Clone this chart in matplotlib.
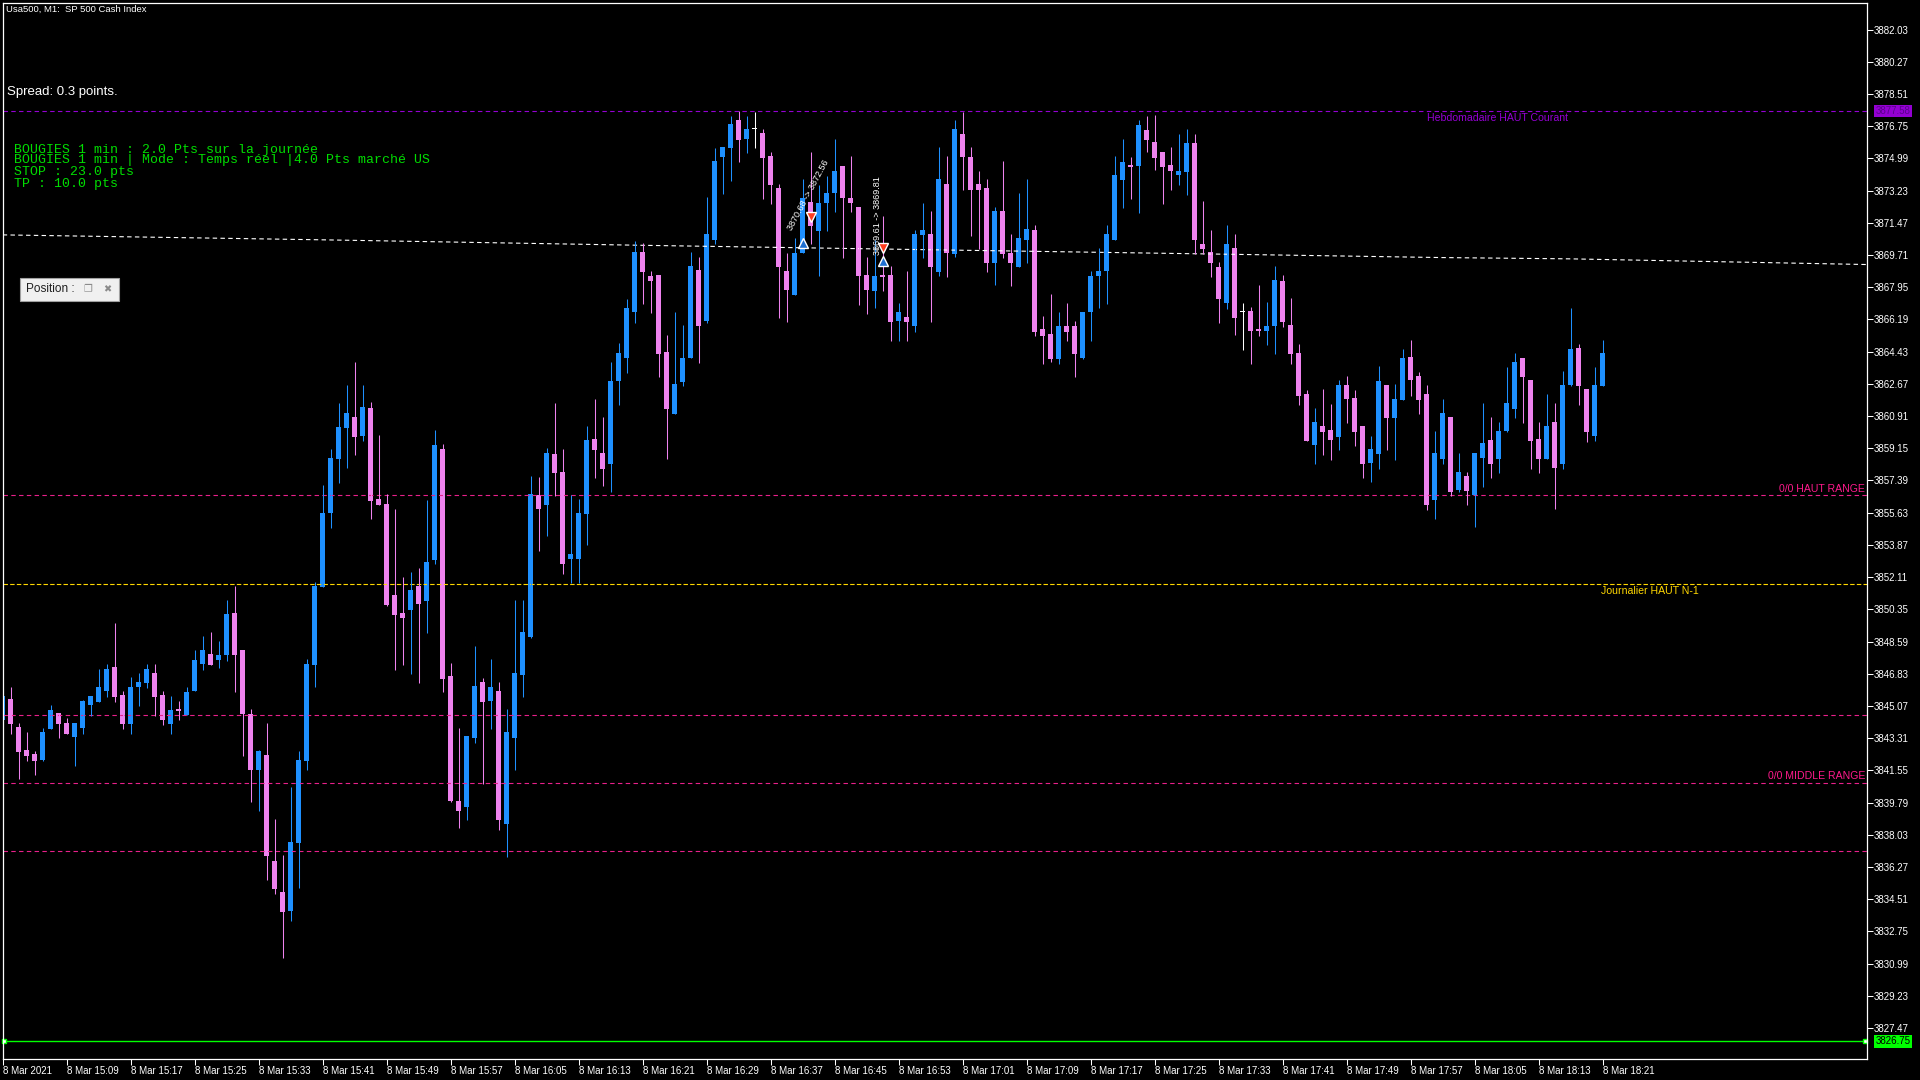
import datetime
import matplotlib
matplotlib.use("Agg")
import matplotlib.pyplot as plt
from matplotlib.patches import Rectangle
from matplotlib.transforms import blended_transform_factory

plt.rcParams['font.family'] = ['Liberation Sans', 'DejaVu Sans']

# M1 candles, 8 Mar 2021 from 15:01 to 18:21
opens = [
    3844.31, 3845.45, 3843.92, 3842.67, 3842.45, 3842.12, 3843.82, 3844.69, 3844.14, 3843.38,
    3843.87, 3845.13, 3845.29, 3845.89, 3847.20, 3845.67, 3844.09, 3846.11, 3846.33, 3846.88,
    3845.67, 3844.09, 3844.90, 3844.58, 3845.89, 3847.37, 3847.91, 3847.59, 3847.86, 3850.15,
    3848.13, 3844.63, 3841.57, 3842.39, 3836.60, 3834.91, 3833.87, 3837.58, 3842.07, 3847.31,
    3851.57, 3855.61, 3858.56, 3860.26, 3860.86, 3859.82, 3861.35, 3856.38, 3856.11, 3851.13,
    3850.15, 3850.31, 3851.62, 3850.80, 3853.04, 3859.11, 3846.71, 3839.88, 3839.55, 3843.32,
    3846.38, 3845.34, 3845.89, 3838.62, 3843.32, 3846.76, 3848.84, 3856.60, 3856.05, 3858.84,
    3857.85, 3853.10, 3853.10, 3855.56, 3859.66, 3858.89, 3858.29, 3862.83, 3864.08, 3866.60,
    3869.87, 3868.56, 3868.62, 3864.41, 3861.02, 3862.77, 3864.08, 3868.89, 3866.10, 3870.53,
    3875.07, 3875.56, 3877.09, 3876.05, 3876.58, 3876.38, 3875.12, 3873.37, 3868.84, 3867.52,
    3869.82, 3872.61, 3871.02, 3872.55, 3873.10, 3874.57, 3872.82, 3872.33, 3868.62, 3867.74,
    3868.64, 3868.62, 3866.10, 3866.32, 3865.83, 3870.80, 3870.86, 3868.78, 3873.59, 3869.76,
    3876.32, 3875.07, 3873.59, 3873.37, 3869.27, 3872.11, 3869.82, 3869.05, 3870.53, 3871.08,
    3865.67, 3865.39, 3864.03, 3865.83, 3865.83, 3864.08, 3866.60, 3868.56, 3868.84, 3870.53,
    3873.81, 3874.63, 3874.57, 3876.54, 3875.88, 3875.34, 3874.63, 3874.08, 3874.25, 3875.83,
    3870.31, 3869.87, 3869.05, 3867.09, 3870.09, 3866.60, 3866.65, 3865.65, 3865.56, 3865.83,
    3868.29, 3865.89, 3864.36, 3862.12, 3859.33, 3860.37, 3860.15, 3859.77, 3862.61, 3861.90,
    3860.37, 3858.35, 3858.84, 3862.61, 3860.81, 3861.79, 3864.14, 3863.10, 3862.12, 3856.32,
    3858.56, 3860.86, 3856.87, 3857.64, 3856.60, 3858.62, 3859.60, 3858.56, 3860.10, 3861.30,
    3864.08, 3862.88, 3859.66, 3858.56, 3860.59, 3858.29, 3862.61, 3864.63, 3862.39, 3859.82,
    3862.55,
]
highs = [
    3846.00, 3846.11, 3844.14, 3843.65, 3842.61, 3843.87, 3845.13, 3844.69, 3844.42, 3844.14,
    3845.40, 3845.62, 3847.09, 3847.37, 3849.61, 3845.89, 3846.66, 3846.88, 3847.37, 3847.37,
    3845.89, 3845.62, 3845.35, 3846.11, 3848.13, 3848.90, 3849.12, 3848.62, 3850.86, 3851.63,
    3848.13, 3844.91, 3842.67, 3844.14, 3838.90, 3836.93, 3840.65, 3842.61, 3847.64, 3851.85,
    3857.14, 3859.11, 3861.62, 3862.61, 3863.86, 3862.61, 3861.68, 3859.88, 3856.65, 3855.83,
    3852.12, 3852.39, 3852.61, 3856.32, 3860.15, 3859.38, 3847.42, 3843.86, 3843.43, 3848.35,
    3846.60, 3847.63, 3846.38, 3844.90, 3850.86, 3850.86, 3857.63, 3857.58, 3859.16, 3861.62,
    3859.11, 3856.60, 3856.38, 3860.37, 3861.84, 3860.86, 3863.86, 3864.90, 3867.30, 3870.50,
    3870.37, 3868.84, 3868.62, 3865.34, 3866.60, 3865.88, 3869.87, 3869.60, 3872.88, 3875.56,
    3875.61, 3877.31, 3877.58, 3877.31, 3877.52, 3876.60, 3875.34, 3873.59, 3869.82, 3870.64,
    3873.86, 3875.34, 3873.54, 3874.03, 3876.05, 3874.57, 3875.12, 3872.33, 3869.60, 3870.53,
    3871.84, 3869.11, 3867.09, 3868.84, 3871.08, 3872.55, 3872.11, 3875.61, 3875.12, 3877.09,
    3877.52, 3875.61, 3874.30, 3873.86, 3872.33, 3874.85, 3870.86, 3873.10, 3873.86, 3871.35,
    3866.38, 3867.58, 3866.60, 3867.09, 3866.10, 3866.60, 3868.84, 3870.09, 3871.35, 3875.12,
    3876.05, 3875.07, 3877.09, 3877.31, 3877.36, 3875.34, 3875.61, 3876.32, 3876.60, 3876.32,
    3872.66, 3871.08, 3869.33, 3871.35, 3870.86, 3867.09, 3866.87, 3868.07, 3867.14, 3869.11,
    3868.62, 3867.36, 3864.85, 3862.34, 3861.35, 3862.39, 3861.57, 3862.88, 3863.10, 3862.34,
    3860.37, 3859.82, 3863.65, 3862.61, 3862.66, 3864.58, 3865.07, 3863.32, 3862.61, 3860.10,
    3861.84, 3860.86, 3858.89, 3857.85, 3858.89, 3861.63, 3860.86, 3860.59, 3863.59, 3864.36,
    3864.08, 3862.88, 3860.59, 3862.12, 3861.63, 3863.37, 3866.82, 3864.85, 3862.39, 3863.59,
    3865.07,
]
lows = [
    3843.90, 3843.54, 3841.08, 3842.07, 3841.30, 3842.07, 3843.82, 3843.32, 3843.54, 3841.79,
    3843.54, 3844.53, 3845.29, 3845.56, 3845.29, 3843.82, 3843.54, 3845.07, 3846.06, 3844.53,
    3844.03, 3843.54, 3844.31, 3844.58, 3845.89, 3847.04, 3847.31, 3847.15, 3847.53, 3845.84,
    3842.34, 3839.83, 3839.33, 3835.56, 3834.80, 3831.30, 3833.32, 3835.13, 3841.57, 3846.11,
    3851.57, 3854.79, 3857.25, 3858.07, 3858.78, 3859.55, 3855.28, 3856.05, 3850.53, 3847.03,
    3847.31, 3846.81, 3846.32, 3849.06, 3852.83, 3845.83, 3839.82, 3838.40, 3838.84, 3843.04,
    3840.80, 3843.81, 3838.29, 3836.82, 3841.57, 3845.56, 3848.78, 3853.54, 3854.36, 3856.54,
    3852.28, 3851.79, 3851.79, 3853.86, 3857.53, 3857.09, 3856.76, 3861.51, 3863.26, 3866.00,
    3867.03, 3866.54, 3863.04, 3858.56, 3861.02, 3862.55, 3864.08, 3863.81, 3865.99, 3870.31,
    3873.04, 3873.75, 3874.79, 3875.28, 3875.56, 3872.77, 3872.50, 3866.27, 3866.05, 3867.52,
    3869.82, 3870.31, 3868.56, 3871.02, 3872.06, 3869.55, 3872.06, 3866.98, 3866.49, 3866.81,
    3867.74, 3865.01, 3865.01, 3865.01, 3865.50, 3869.55, 3866.05, 3868.56, 3868.51, 3869.60,
    3873.26, 3870.75, 3870.04, 3868.78, 3868.07, 3869.55, 3868.02, 3869.05, 3869.27, 3865.28,
    3863.75, 3863.86, 3863.75, 3865.01, 3863.04, 3864.03, 3865.01, 3866.81, 3867.03, 3870.53,
    3872.28, 3872.77, 3872.01, 3875.34, 3874.35, 3872.50, 3873.26, 3873.54, 3872.99, 3869.76,
    3869.76, 3868.51, 3865.99, 3866.76, 3865.34, 3864.52, 3863.75, 3865.28, 3864.79, 3864.30,
    3865.78, 3863.76, 3861.52, 3859.55, 3858.29, 3858.78, 3858.51, 3859.06, 3860.53, 3859.28,
    3857.53, 3857.31, 3858.02, 3859.06, 3858.51, 3861.79, 3862.01, 3861.02, 3855.78, 3855.29,
    3858.29, 3856.54, 3856.76, 3856.05, 3854.85, 3857.03, 3857.53, 3857.80, 3860.04, 3860.81,
    3860.53, 3858.02, 3857.80, 3858.56, 3855.83, 3858.02, 3862.55, 3861.52, 3859.49, 3859.55,
    3862.55,
]
closes = [
    3845.62, 3844.09, 3842.56, 3842.34, 3842.07, 3843.65, 3844.85, 3844.09, 3843.54, 3844.14,
    3845.35, 3845.62, 3846.11, 3847.09, 3845.56, 3844.09, 3846.11, 3846.38, 3847.09, 3845.56,
    3844.31, 3844.85, 3844.80, 3845.84, 3847.59, 3848.13, 3847.31, 3847.86, 3850.10, 3847.86,
    3844.63, 3841.57, 3842.61, 3836.88, 3835.07, 3833.82, 3837.64, 3842.12, 3847.37, 3851.63,
    3855.61, 3858.62, 3860.31, 3861.08, 3859.77, 3861.41, 3856.27, 3856.05, 3850.59, 3850.04,
    3849.88, 3851.41, 3850.64, 3852.94, 3859.33, 3846.54, 3839.88, 3839.33, 3843.43, 3846.16,
    3845.28, 3846.10, 3838.84, 3843.65, 3846.87, 3849.11, 3856.65, 3855.83, 3858.89, 3857.80,
    3852.83, 3853.37, 3855.61, 3859.60, 3859.06, 3858.02, 3862.83, 3864.36, 3866.80, 3869.90,
    3868.78, 3868.29, 3864.30, 3861.29, 3862.66, 3864.08, 3869.11, 3865.83, 3870.86, 3874.85,
    3875.61, 3876.87, 3875.99, 3876.60, 3876.58, 3875.01, 3873.54, 3869.05, 3867.80, 3869.82,
    3872.82, 3871.29, 3872.55, 3873.10, 3874.30, 3872.82, 3872.55, 3868.56, 3867.80, 3868.56,
    3868.50, 3866.05, 3866.60, 3866.05, 3870.86, 3871.08, 3869.05, 3873.86, 3869.82, 3876.60,
    3875.07, 3873.26, 3873.26, 3869.27, 3872.11, 3869.76, 3869.27, 3870.64, 3871.13, 3865.50,
    3865.28, 3864.03, 3865.83, 3865.50, 3864.30, 3866.60, 3868.56, 3868.84, 3870.86, 3874.08,
    3874.79, 3874.52, 3876.81, 3875.99, 3875.01, 3874.52, 3874.30, 3874.30, 3875.83, 3870.53,
    3870.04, 3869.27, 3867.31, 3870.31, 3866.27, 3866.60, 3865.56, 3865.58, 3865.83, 3868.34,
    3866.05, 3864.30, 3862.01, 3859.55, 3860.59, 3860.04, 3859.60, 3862.61, 3861.84, 3860.04,
    3858.29, 3859.11, 3862.83, 3860.81, 3861.84, 3864.08, 3862.88, 3861.79, 3856.05, 3858.89,
    3861.08, 3856.76, 3857.85, 3856.82, 3858.89, 3859.44, 3858.29, 3860.10, 3861.63, 3863.87,
    3863.05, 3859.55, 3858.56, 3860.37, 3858.07, 3862.61, 3864.58, 3862.55, 3860.04, 3862.61,
    3864.36,
]

start_time = datetime.datetime(2021, 3, 8, 15, 1)

# levels drawn by the indicators
weekly_high = 3877.58
haut_range = 3856.58
daily_high_prev = 3851.72
range_levels = [3844.56, 3840.85, 3837.13]
green_level = 3826.75

# slow dashed average line (bar index, price)
avg_x = [0, 40, 80, 120, 161, 180, 196, 233]
avg_y = [3870.81, 3870.54, 3870.24, 3869.97, 3869.70, 3869.57, 3869.50, 3869.19]

# trades
buy_x = [100, 110]
buy_y = [3870.39, 3869.40]
sell_x = [101, 110]
sell_y = [3871.81, 3870.11]

info_lines = [
    "BOUGIES 1 min : 2.0 Pts sur la journée",
    "BOUGIES 1 min | Mode : Temps réel |4.0 Pts marché US",
    "STOP : 23.0 pts",
    "TP : 10.0 pts",
]

BULL = '#1e90ff'
BEAR = '#ee82ee'
DOJI = 'white'
W, H = 1920, 1080

fig = plt.figure(figsize=(19.2, 10.8), dpi=100, facecolor='black')
ax = fig.add_axes([2.7 / W, 1 - 1059 / H, (1867 - 2.7) / W, (1059 - 3) / H])
ax.set_facecolor('black')

x = list(range(len(opens)))
colors = []
for o, c in zip(opens, closes):
    if c > o:
        colors.append(BULL)
    elif c < o:
        colors.append(BEAR)
    else:
        colors.append(DOJI)

bottoms = [min(o, c) for o, c in zip(opens, closes)]
heights = [max(abs(c - o), 0.06) for o, c in zip(opens, closes)]

# horizontal levels first so candles sit on top
ax.axhline(weekly_high, color='#9400d3', lw=0.8, ls=(0, (4, 3)))
ax.axhline(haut_range, color='#e8208a', lw=0.8, ls=(0, (4, 3)))
ax.axhline(daily_high_prev, color='#ffd700', lw=0.8, ls=(0, (4, 2)))
for lvl in range_levels:
    ax.axhline(lvl, color='#e8208a', lw=0.8, ls=(0, (4, 3)))
ax.axhline(green_level, color='#00ff00', lw=1.0)
ax.plot([0.19, 232.8], [green_level, green_level], 's', ms=3.5, mfc='white',
        mec='#00ff00', mew=1, clip_on=False)
ax.plot(avg_x, avg_y, color='white', lw=0.8, ls=(0, (4, 3)))

ax.vlines(x, lows, highs, colors=colors, linewidth=0.75)
ax.bar(x, heights, width=0.62, bottom=bottoms, color=colors, linewidth=0)

ax.plot(buy_x, buy_y, '^', ms=6.5, color='#1e6fd0', mec='white', mew=1)
ax.plot(sell_x, sell_y, 'v', ms=6.5, color='#ff3c1e', mec='white', mew=1)
ax.text(98.9, 3870.96, "3870.68 -> 3872.56", color='white', fontsize=6.5,
        rotation=62, rotation_mode='anchor', ha='left', va='bottom')
ax.text(109.3, 3869.71, "3869.61 -> 3869.81", color='white', fontsize=6.5,
        rotation=90, rotation_mode='anchor', ha='left', va='center')

# level labels
ax.text(178, 3877.20, "Hebdomadaire HAUT Courant", color='#9400d3', fontsize=7.6,
        ha='left', va='center')
ax.text(232.8, 3856.92, "0/0 HAUT RANGE", color='#ff1a8c', fontsize=7.6,
        ha='right', va='center')
ax.text(199.8, 3851.35, "Journalier HAUT N-1", color='#ffd700', fontsize=7.6,
        ha='left', va='center')
ax.text(232.8, 3841.25, "0/0 MIDDLE RANGE", color='#ff1a8c', fontsize=7.6,
        ha='right', va='center')

ax.set_xlim(0.025, 233.06)
ax.set_ylim(3825.78, 3883.48)

for s in ax.spines.values():
    s.set_color('white')
    s.set_linewidth(0.9)

yticks = [round(3882.03 - 1.76 * k, 2) for k in range(32)]
ax.yaxis.tick_right()
ax.set_yticks(yticks)
ax.set_yticklabels([f"{v:.2f}" for v in yticks])
ax.tick_params(axis='y', colors='white', length=4, width=0.75, labelsize=7, pad=1)

xticks = list(range(0, 201, 8))
xlabels = ["8 Mar 2021"]
for i in xticks[1:]:
    t = start_time + datetime.timedelta(minutes=i)
    xlabels.append(t.strftime("8 Mar %H:%M"))
ax.set_xticks(xticks)
ax.set_xticklabels(xlabels, ha='left')
ax.tick_params(axis='x', colors='white', length=4, width=0.75, labelsize=7, pad=1)

# current price boxes on the scale
trans = blended_transform_factory(ax.transAxes, ax.transData)
ax.text(1.0045, weekly_high, "3877.58", transform=trans, color='#5a008c', fontsize=7,
        ha='left', va='center', clip_on=False,
        bbox=dict(boxstyle='square,pad=0.15', fc='#9400d3', ec='none'))
ax.text(1.0045, green_level, "3826.75", transform=trans, color='black', fontsize=7,
        ha='left', va='center', clip_on=False,
        bbox=dict(boxstyle='square,pad=0.15', fc='#00ff00', ec='none'))

# texts at the top left
fig.text(6 / W, 1 - 9.5 / H, "Usa500, M1:  SP 500 Cash Index", color='white',
         fontsize=6.8, ha='left', va='center')
fig.text(7 / W, 1 - 92 / H, "Spread: 0.3 points.", color='white', fontsize=9.5,
         ha='left', va='center')
for line, yy in zip(info_lines, [150, 160, 172, 184]):
    fig.text(13.5 / W, 1 - yy / H, line, color='#00dd00', fontsize=9.5,
             family='Liberation Mono', ha='left', va='center')

# little "Position" panel
fig.patches.append(Rectangle((20 / W, 1 - 301 / H), 99 / W, 23 / H, transform=fig.transFigure,
                             fc='#f0f0f0', ec='#a0a0a0', lw=0.8))
fig.text(26 / W, 1 - 289.5 / H, "Position :", color='#202020', fontsize=8.5,
         ha='left', va='center')
fig.text(88 / W, 1 - 289.5 / H, "❐", color='#8a8a8a', fontsize=7,
         family='DejaVu Sans', ha='center', va='center')
fig.text(107 / W, 1 - 289.5 / H, "✖", color='#8a8a8a', fontsize=7,
         family='DejaVu Sans', ha='center', va='center')

fig.savefig("out.png", dpi=100, facecolor='black')
